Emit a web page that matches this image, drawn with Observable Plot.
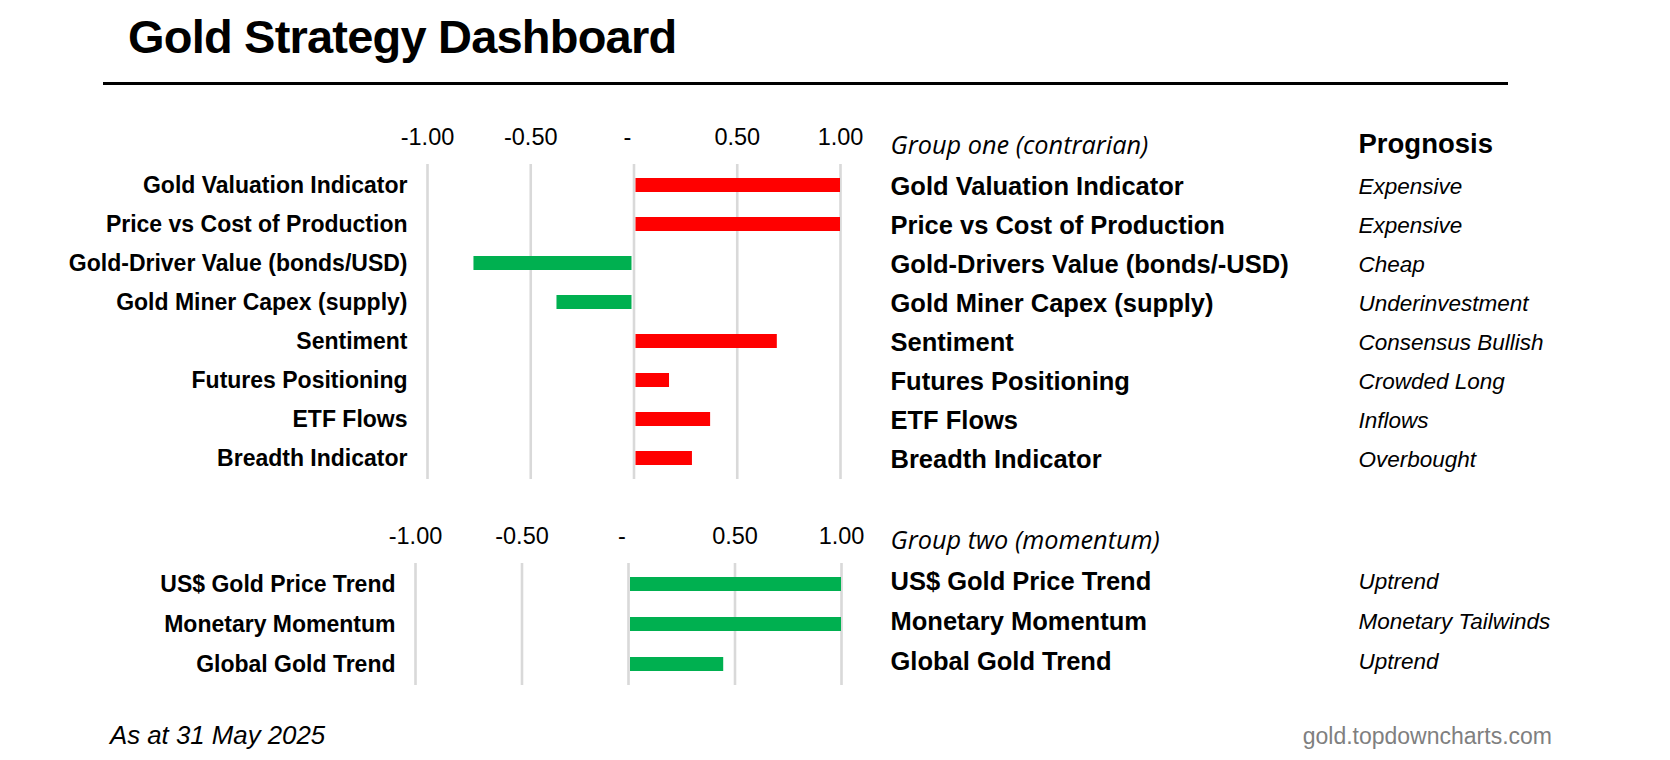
<!DOCTYPE html>
<html>
<head>
<meta charset="utf-8">
<script src="https://cdn.jsdelivr.net/npm/d3@7"></script>
<script src="https://cdn.jsdelivr.net/npm/@observablehq/plot@0.6"></script>
<style>
  html, body { margin: 0; padding: 0; background: #fff; }
  #page { position: relative; width: 1670px; height: 760px; background: #fff; overflow: hidden; font-family: "Liberation Sans", Arial, sans-serif; }
  #title { position: absolute; left: 128px; top: 13px; font-size: 47px; line-height: 1; font-weight: bold; letter-spacing: -0.8px; color: #000; white-space: nowrap; }
  #rule { position: absolute; left: 103px; top: 82px; width: 1405px; height: 3px; background: #000; }
  #g1 { position: absolute; left: 0; top: 100px; }
  #g2 { position: absolute; left: 0; top: 480px; }
  #asat { position: absolute; left: 110px; top: 723px; font-size: 25.8px; line-height: 1; font-style: italic; color: #000; white-space: nowrap; }
  #src { position: absolute; right: 118px; top: 725px; font-size: 23px; line-height: 1; color: #7f7f7f; white-space: nowrap; }
  svg { overflow: visible; }
</style>
</head>
<body>
<div id="page">
  <div id="title">Gold Strategy Dashboard</div>
  <div id="rule"></div>
  <div id="g1"></div>
  <div id="g2"></div>
  <div id="asat">As at 31 May 2025</div>
  <div id="src">gold.topdowncharts.com</div>
</div>
<script>
// ---- data ----
const axisTicks = [-1, -0.5, 0, 0.5, 1];

const group1Header = "Group one (contrarian)";
const group1Labels = ["Gold Valuation Indicator", "Price vs Cost of Production", "Gold-Driver Value (bonds/USD)", "Gold Miner Capex (supply)", "Sentiment", "Futures Positioning", "ETF Flows", "Breadth Indicator"];
const group1RightLabels = ["Gold Valuation Indicator", "Price vs Cost of Production", "Gold-Drivers Value (bonds/-USD)", "Gold Miner Capex (supply)", "Sentiment", "Futures Positioning", "ETF Flows", "Breadth Indicator"];
const group1Values = [1.0, 1.0, -0.775, -0.373, 0.694, 0.172, 0.371, 0.283];
const group1Prognosis = ["Expensive", "Expensive", "Cheap", "Underinvestment", "Consensus Bullish", "Crowded Long", "Inflows", "Overbought"];

const group2Header = "Group two (momentum)";
const group2Labels = ["US$ Gold Price Trend", "Monetary Momentum", "Global Gold Trend"];
const group2Values = [1.0, 1.0, 0.447];
const group2Prognosis = ["Uptrend", "Monetary Tailwinds", "Uptrend"];

const prognosisHeader = "Prognosis";

// ---- styling ----
const RED = "#ff0000";
const GREEN = "#00b050";
const GRID = "#d9d9d9";
const SANS = "Liberation Sans, Arial, sans-serif";
const HUMAN = "Open Sans, Noto Sans, sans-serif";

// Excel-style accounting format: hyphen for negatives, "-" for zero
const tickFmt = d => d === 0 ? "-" : (d < 0 ? "-" : "") + Math.abs(d).toFixed(2);

function makeChart(cfg) {
  const rows = cfg.labels.map((label, i) => ({
    label,
    value: cfg.values[i],
    right: cfg.rightLabels[i],
    prog: cfg.prognosis[i]
  }));
  const colorOf = d => cfg.contrarian ? (d.value > 0 ? RED : GREEN) : (d.value > 0 ? GREEN : RED);
  const tickFs = 23.5;
  const tickDy = -20 - 0.32 * tickFs;
  const hdrFs = 25.3;
  const progFs = 27.5;
  return Plot.plot({
    width: 1670,
    height: cfg.height,
    marginLeft: cfg.left,
    marginRight: 1670 - cfg.right,
    marginTop: cfg.marginTop,
    marginBottom: cfg.marginBottom,
    style: {fontFamily: SANS, background: "transparent", overflow: "visible"},
    x: {domain: [-1, 1], axis: null},
    y: {domain: cfg.labels, paddingInner: 0.64, paddingOuter: 0.32, axis: null},
    marks: [
      Plot.ruleX(axisTicks, {x: d => d, stroke: GRID, strokeWidth: 2.6}),
      Plot.barX(rows.filter(d => d.value >= 0), {x1: 0, x2: "value", y: "label", fill: colorOf, insetLeft: 2}),
      Plot.barX(rows.filter(d => d.value < 0), {x1: 0, x2: "value", y: "label", fill: colorOf, insetRight: 2}),
      // tick labels (the zero dash sits a little left, as in an accounting format)
      Plot.text(axisTicks.filter(d => d !== 0), {x: d => d, text: tickFmt, frameAnchor: "top", lineAnchor: "middle", dy: tickDy, fontSize: tickFs, fill: "#000", fontFamily: SANS}),
      Plot.text(axisTicks.filter(d => d === 0), {x: d => d, text: tickFmt, frameAnchor: "top", lineAnchor: "middle", dy: tickDy, dx: -6.5, fontSize: tickFs, fill: "#000", fontFamily: SANS}),
      // left labels
      Plot.text(rows, {y: "label", text: "label", frameAnchor: "left", textAnchor: "end", dx: -20, fontSize: cfg.leftFs, fontWeight: "bold", fill: "#000", fontFamily: SANS}),
      // right labels
      Plot.text(rows, {y: "label", text: "right", frameAnchor: "right", textAnchor: "start", dx: cfg.rightDx, dy: cfg.rowDy, fontSize: 25.5, fontWeight: "bold", fill: "#000", fontFamily: SANS}),
      // prognosis
      Plot.text(rows, {y: "label", text: "prog", frameAnchor: "right", textAnchor: "start", dx: 1358 - cfg.right, dy: cfg.rowDy, fontSize: 22.5, fontStyle: "italic", fill: "#000", fontFamily: SANS}),
      // group header
      Plot.text([cfg.header], {text: d => d, frameAnchor: "top-right", lineAnchor: "middle", textAnchor: "start", dx: cfg.headerDx, dy: cfg.headerBase - 0.32 * hdrFs, fontSize: hdrFs, fontStyle: "italic", fill: "#000", fontFamily: HUMAN}),
      // prognosis header
      ...(cfg.showProg ? [Plot.text([prognosisHeader], {text: d => d, frameAnchor: "top-right", lineAnchor: "middle", textAnchor: "start", dx: 1358 - cfg.right, dy: -12 - 0.32 * progFs, fontSize: progFs, fontWeight: "bold", fill: "#000", fontFamily: SANS})] : [])
    ]
  });
}

document.getElementById("g1").appendChild(makeChart({
  labels: group1Labels, rightLabels: group1RightLabels, values: group1Values, prognosis: group1Prognosis,
  header: group1Header, contrarian: true, showProg: true,
  height: 400, left: 427, right: 840, marginTop: 64, marginBottom: 21,
  leftFs: 23, rightDx: 50, headerDx: 50, rowDy: 1, headerBase: -11
}));

document.getElementById("g2").appendChild(makeChart({
  labels: group2Labels, rightLabels: group2Labels, values: group2Values, prognosis: group2Prognosis,
  header: group2Header, contrarian: false, showProg: false,
  height: 220, left: 415, right: 841, marginTop: 83, marginBottom: 15,
  leftFs: 23, rightDx: 49, headerDx: 49, rowDy: -3, headerBase: -15
}));
</script>
</body>
</html>
